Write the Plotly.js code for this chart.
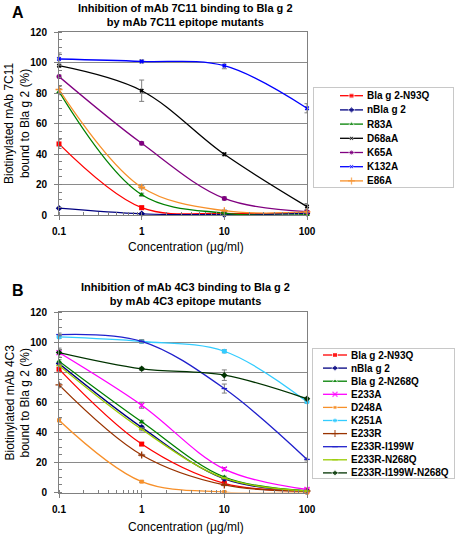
<!DOCTYPE html>
<html><head><meta charset="utf-8">
<script src="https://cdn.plot.ly/plotly-3.0.1.min.js"></script>
<style>html,body{margin:0;padding:0;background:#fff}#chart{width:457px;height:536px}</style>
</head><body><div id="chart"></div>
<script>
// ---------- DATA ----------
const concentrations = [0.1, 1, 10, 100];

// Panel A: mAb 7C11
const namesA = ["Bla g 2-N93Q", "nBla g 2", "R83A", "D68aA", "K65A", "K132A", "E86A"];
const valuesA_N93Q  = [46.6, 4.8, 1.0, 1.5];
const valuesA_nBla  = [4.5, 0.8, 0.2, 1.0];
const valuesA_R83A  = [80.9, 13.3, 1.2, 0.2];
const valuesA_D68aA = [97.9, 81.5, 39.8, 5.5];
const valuesA_K65A  = [90.8, 47.0, 10.9, 2.2];
const valuesA_K132A = [102.3, 100.7, 97.9, 70.0];
const valuesA_E86A  = [82.3, 18.2, 2.8, 2.0];
const errorsA_N93Q  = [3, 1, 0.5, 0.5];
const errorsA_nBla  = [0.5, 0.5, 0.5, 0.5];
const errorsA_R83A  = [2, 1, 0.5, 0.5];
const errorsA_D68aA = [1, 7, 1, 2];
const errorsA_K65A  = [1, 1, 1, 0.5];
const errorsA_K132A = [4, 1, 2, 3];
const errorsA_E86A  = [2, 1, 0.5, 0.5];

// Panel B: mAb 4C3
const namesB = ["Bla g 2-N93Q", "nBla g 2", "Bla g 2-N268Q", "E233A", "D248A", "K251A", "E233R", "E233R-I199W", "E233R-N268Q", "E233R-I199W-N268Q"];
const valuesB_N93Q    = [82.0, 32.2, 6.1, 1.0];
const valuesB_nBla    = [85.7, 43.3, 9.0, 1.0];
const valuesB_N268Q   = [87.3, 47.0, 10.3, 1.2];
const valuesB_E233A   = [93.0, 58.0, 15.6, 2.0];
const valuesB_D248A   = [48.0, 7.2, 0.3, 0.0];
const valuesB_K251A   = [103.4, 100.4, 93.9, 60.3];
const valuesB_E233R   = [71.5, 24.9, 5.0, 1.0];
const valuesB_I199W   = [105.0, 100.5, 69.1, 22.0];
const valuesB_RN268Q  = [84.5, 42.0, 9.5, 1.0];
const valuesB_triple  = [93.0, 82.2, 78.0, 62.3];
const errorsB_N93Q    = [1, 1, 0.5, 0.5];
const errorsB_nBla    = [1, 1, 0.5, 0.5];
const errorsB_N268Q   = [1, 1, 0.5, 0.5];
const errorsB_E233A   = [1, 2, 1, 0.5];
const errorsB_D248A   = [1, 0.5, 0.5, 0.5];
const errorsB_K251A   = [1, 1, 1, 1];
const errorsB_E233R   = [1, 0.5, 0.5, 0.5];
const errorsB_I199W   = [1, 1, 3, 1];
const errorsB_RN268Q  = [1, 1, 0.5, 0.5];
const errorsB_triple  = [3, 1, 3.5, 1];

const tickValsX = [0.1, 1, 10, 100];
const tickTextX = ["0.1", "1", "10", "100"];

// ---------- STYLES ----------
const FONT = "Liberation Sans, Arial, sans-serif";
const stylesA = [
  {color:"#FF0000", symbol:"square", size:5},
  {color:"#000080", symbol:"diamond", size:5},
  {color:"#008000", symbol:"triangle-up", size:5},
  {color:"#000000", symbol:"x", size:4},
  {color:"#800080", symbol:"circle", size:5},
  {color:"#0000FF", symbol:"x", size:4},
  {color:"#F7902A", symbol:"cross-thin", size:5, line:true}
];
const stylesB = [
  {color:"#FF0000", symbol:"square", size:5},
  {color:"#000080", symbol:"diamond", size:5},
  {color:"#008000", symbol:"triangle-up", size:5},
  {color:"#FF00FF", symbol:"x-thin", size:5, line:true},
  {color:"#F7902A", symbol:"square", size:4},
  {color:"#33CCFF", symbol:"circle", size:5},
  {color:"#993300", symbol:"cross-thin", size:5, line:true},
  {color:"#2020CC", symbol:"line-ew", size:4, line:true},
  {color:"#99CC00", symbol:"line-ew", size:4, line:true},
  {color:"#003300", symbol:"diamond", size:5}
];

const seriesA = [valuesA_N93Q, valuesA_nBla, valuesA_R83A, valuesA_D68aA, valuesA_K65A, valuesA_K132A, valuesA_E86A];
const errsA = [errorsA_N93Q, errorsA_nBla, errorsA_R83A, errorsA_D68aA, errorsA_K65A, errorsA_K132A, errorsA_E86A];
const seriesB = [valuesB_N93Q, valuesB_nBla, valuesB_N268Q, valuesB_E233A, valuesB_D248A, valuesB_K251A, valuesB_E233R, valuesB_I199W, valuesB_RN268Q, valuesB_triple];
const errsB = [errorsB_N93Q, errorsB_nBla, errorsB_N268Q, errorsB_E233A, errorsB_D248A, errorsB_K251A, errorsB_E233R, errorsB_I199W, errorsB_RN268Q, errorsB_triple];

function markerOf(s, sizes){
  const m = {color:s.color, symbol:s.symbol, size: sizes || s.size};
  if (s.line) m.line = {color:s.color, width:1.3};
  return m;
}

const traces = [];
function addPanel(names, series, errs, styles, xa, ya){
  names.forEach((n,i)=>{
    traces.push({
      type:"scatter", mode:"lines+markers", name:n, x:concentrations, y:series[i],
      xaxis:xa, yaxis:ya, showlegend:false, cliponaxis:false,
      line:{color:styles[i].color, width:1.3, shape:"spline", smoothing:1},
      marker:markerOf(styles[i]),
      error_y:{type:"data", array:errs[i], color:"#7f7f7f", thickness:1, width:2.5}
    });
  });
}
addPanel(namesA, seriesA, errsA, stylesA, "x", "y");
addPanel(namesB, seriesB, errsB, stylesB, "x2", "y2");

// ---------- CUSTOM LEGENDS (positions from entry index) ----------
const W = 457, H = 536;
const annotations = [];
function addLegend(names, styles, xa, ya, rowStep, firstRow, sampleL, sampleR, textX){
  names.forEach((n,i)=>{
    const yy = firstRow + i*rowStep;
    const mid = (sampleL+sampleR)/2;
    traces.push({
      type:"scatter", mode:"lines+markers", x:[sampleL, mid, sampleR], y:[yy,yy,yy],
      xaxis:xa, yaxis:ya, showlegend:false, hoverinfo:"skip", cliponaxis:false,
      line:{color:styles[i].color, width:1.3},
      marker:markerOf(styles[i], [0, styles[i].size, 0])
    });
    annotations.push({xref:xa, yref:ya, x:textX, y:yy, xanchor:"left", yanchor:"middle",
      text:n, showarrow:false, font:{family:FONT, size:10, color:"#000", weight:"bold"}});
  });
}
addLegend(namesA, stylesA, "x3", "y3", 14.2, 7.7, 26, 49, 51);
addLegend(namesB, stylesB, "x4", "y4", 13.1, 6.0, 10, 34, 36);

// ---------- TEXT ----------
function px(x){return x/W;}
function py(y){return 1 - y/H;}
const titleFont = {family:FONT, size:11, color:"#000", weight:"bold"};
const axisTitleFont = {family:FONT, size:12, color:"#000"};
annotations.push(
  {xref:"paper", yref:"paper", x:px(18), y:py(13), text:"A", showarrow:false, xanchor:"center", yanchor:"middle", font:{family:FONT, size:16, color:"#000", weight:"bold"}},
  {xref:"paper", yref:"paper", x:px(18), y:py(290), text:"B", showarrow:false, xanchor:"center", yanchor:"middle", font:{family:FONT, size:16, color:"#000", weight:"bold"}},
  {xref:"paper", yref:"paper", x:px(185), y:py(15.5), text:"Inhibition of mAb 7C11 binding to Bla g 2<br>by mAb 7C11 epitope mutants", showarrow:false, xanchor:"center", yanchor:"middle", font:titleFont},
  {xref:"paper", yref:"paper", x:px(185), y:py(293.5), text:"Inhibition of mAb 4C3 binding to Bla g 2<br>by mAb 4C3 epitope mutants", showarrow:false, xanchor:"center", yanchor:"middle", font:titleFont},
  {xref:"paper", yref:"paper", x:px(17.5), y:py(123.5), text:"Biotinylated mAb 7C11<br>bound to Bla g 2 (%)", textangle:-90, showarrow:false, xanchor:"center", yanchor:"middle", font:axisTitleFont},
  {xref:"paper", yref:"paper", x:px(17.5), y:py(403), text:"Biotinylated mAb 4C3<br>bound to Bla g 2 (%)", textangle:-90, showarrow:false, xanchor:"center", yanchor:"middle", font:axisTitleFont},
  {xref:"paper", yref:"paper", x:px(186), y:py(247), text:"Concentration (µg/ml)", showarrow:false, xanchor:"center", yanchor:"middle", font:axisTitleFont},
  {xref:"paper", yref:"paper", x:px(186), y:py(527), text:"Concentration (µg/ml)", showarrow:false, xanchor:"center", yanchor:"middle", font:axisTitleFont}
);

// ---------- AXES ----------
const tickFont = {family:FONT, size:10, color:"#000", weight:"bold"};
function xAxis(anchor){
  return {type:"log", range:[-1, 2], domain:[px(59), px(307)], anchor:anchor,
    tickvals:tickValsX, ticktext:tickTextX, ticks:"outside", ticklen:4, tickcolor:"#808080",
    tickfont:tickFont, showgrid:false, zeroline:false, showline:true, linecolor:"#808080", linewidth:1, mirror:true,
    minor:{dtick:"D1", ticks:"inside", ticklen:3, tickcolor:"#808080", showgrid:false},
    ticklabelstandoff:3, fixedrange:true};
}
function yAxis(anchor, top, bottom){
  return {range:[0, 120], domain:[py(bottom), py(top)], anchor:anchor, dtick:20, tick0:0,
    ticks:"outside", ticklen:4, tickcolor:"#808080", tickfont:tickFont,
    showgrid:true, gridcolor:"#8a8a8a", gridwidth:1, zeroline:false,
    showline:true, linecolor:"#808080", linewidth:1, mirror:true,
    minor:{dtick:5, ticks:"inside", ticklen:3, tickcolor:"#808080", showgrid:false},
    ticklabelstandoff:5, fixedrange:true};
}
function legAxisX(x0, x1, anchor){
  return {domain:[px(x0), px(x1)], range:[0, x1-x0], anchor:anchor, showgrid:false, zeroline:false,
    showticklabels:false, ticks:"", showline:true, linecolor:"#c8c8c8", mirror:true, fixedrange:true};
}
function legAxisY(y0, y1, anchor){
  return {domain:[py(y1), py(y0)], range:[y1-y0, 0], anchor:anchor, showgrid:false, zeroline:false,
    showticklabels:false, ticks:"", showline:true, linecolor:"#c8c8c8", mirror:true, fixedrange:true};
}

const layout = {
  width:W, height:H, margin:{l:0, r:0, t:0, b:0},
  paper_bgcolor:"#fff", plot_bgcolor:"#fff", showlegend:false,
  font:{family:FONT, color:"#000"},
  xaxis: xAxis("y"), yaxis: yAxis("x", 32, 215),
  xaxis2: xAxis("y2"), yaxis2: yAxis("x2", 312, 492.5),
  xaxis3: legAxisX(314, 453, "y3"), yaxis3: legAxisY(88, 187, "x3"),
  xaxis4: legAxisX(313, 454, "y4"), yaxis4: legAxisY(349, 478, "x4"),
  annotations: annotations
};

Plotly.newPlot("chart", traces, layout, {staticPlot:true, displayModeBar:false});
</script></body></html>
